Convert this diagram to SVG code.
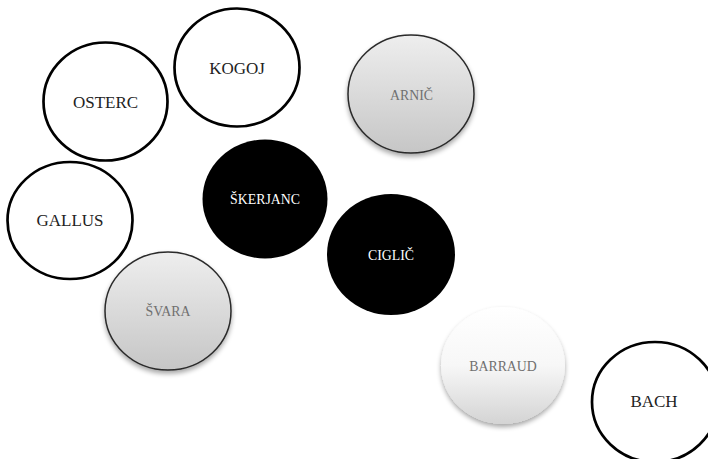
<svg xmlns="http://www.w3.org/2000/svg" width="708" height="459" viewBox="0 0 708 459">
  <defs>
    <linearGradient id="gray" x1="0" y1="0" x2="0" y2="1">
      <stop offset="0" stop-color="#eeeeee"/>
      <stop offset="1" stop-color="#c6c6c6"/>
    </linearGradient>
    <linearGradient id="light" x1="0" y1="0" x2="0" y2="1">
      <stop offset="0" stop-color="#ffffff"/>
      <stop offset="0.5" stop-color="#f7f7f7"/>
      <stop offset="1" stop-color="#d4d4d4"/>
    </linearGradient>
    <filter id="shadow" x="-20%" y="-20%" width="140%" height="150%">
      <feGaussianBlur in="SourceAlpha" stdDeviation="2.5"/>
      <feOffset dy="3" result="b"/>
      <feComponentTransfer><feFuncA type="linear" slope="0.35"/></feComponentTransfer>
      <feMerge><feMergeNode/><feMergeNode in="SourceGraphic"/></feMerge>
    </filter>
  </defs>
  <style>
    .outline { fill: #ffffff; stroke: #000000; stroke-width: 2.7; }
    .dark { fill: #000000; }
    .soft { fill: url(#gray); stroke: #2a2a2a; stroke-width: 1.5; filter: url(#shadow); }
    .pale { fill: url(#light); stroke: none; filter: url(#shadow); }
    text { font-family: "Liberation Serif", "Times New Roman", serif; text-anchor: middle; }
    .big { font-size: 17px; fill: #222222; }
    .small { font-size: 13.8px; }
    .w { fill: #ffffff; }
    .g { fill: #707070; }
  </style>
  <rect width="708" height="459" fill="#ffffff"/>
  <g id="connectors"></g>
  <g id="osterc">
    <ellipse class="outline" cx="105.5" cy="101.5" rx="62" ry="59"/>
    <text class="big" x="105.5" y="108">OSTERC</text>
  </g>
  <g id="kogoj">
    <ellipse class="outline" cx="237" cy="67.5" rx="62.5" ry="59"/>
    <text class="big" x="237" y="74">KOGOJ</text>
  </g>
  <g id="arnic">
    <ellipse class="soft" cx="411" cy="94" rx="63" ry="59"/>
    <text class="small g" x="411.5" y="100">ARNIČ</text>
  </g>
  <g id="gallus">
    <ellipse class="outline" cx="70" cy="220.5" rx="62.5" ry="58.5"/>
    <text class="big" x="70" y="226">GALLUS</text>
  </g>
  <g id="skerjanc">
    <ellipse class="dark" cx="265" cy="199" rx="62.5" ry="59.5"/>
    <text class="small w" x="265" y="204">ŠKERJANC</text>
  </g>
  <g id="ciglic">
    <ellipse class="dark" cx="391" cy="254.5" rx="64" ry="60.5"/>
    <text class="small w" x="391" y="260">CIGLIČ</text>
  </g>
  <g id="svara">
    <ellipse class="soft" cx="168" cy="311" rx="63" ry="59"/>
    <text class="small g" x="168" y="316">ŠVARA</text>
  </g>
  <g id="barraud">
    <ellipse class="pale" cx="503" cy="365.5" rx="62" ry="58.5"/>
    <text class="small g" x="503" y="371">BARRAUD</text>
  </g>
  <g id="bach">
    <ellipse class="outline" cx="655" cy="402" rx="63" ry="60"/>
    <text class="big" x="654" y="407">BACH</text>
  </g>
</svg>
